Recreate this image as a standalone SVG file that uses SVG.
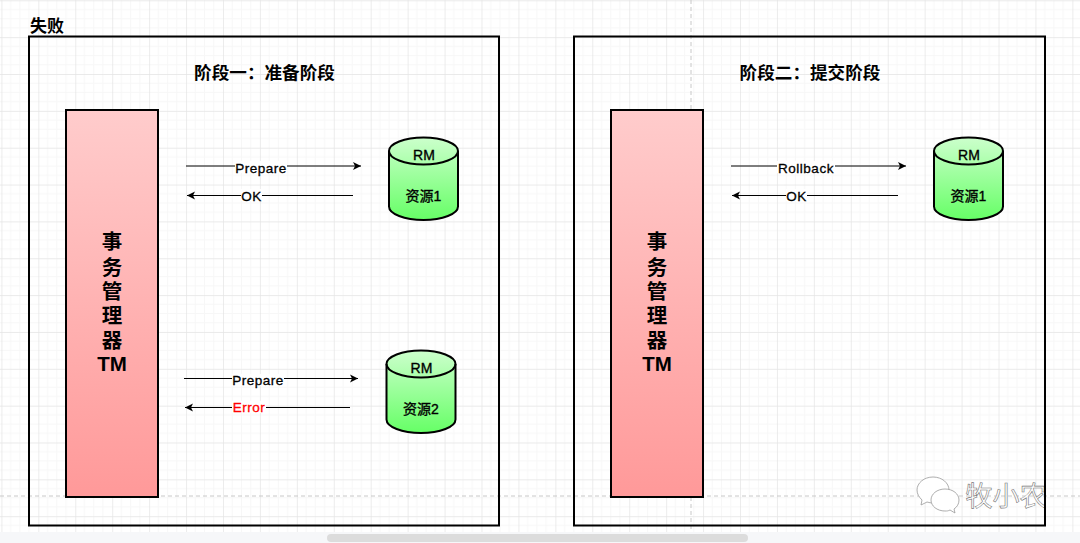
<svg xmlns="http://www.w3.org/2000/svg" width="1080" height="543" viewBox="0 0 1080 543">
<style>
text{font-family:"Liberation Sans","Noto Sans CJK SC",sans-serif;fill:#000;text-anchor:middle}
.frame{fill:none;stroke:#000;stroke-width:2}
.tm{fill:url(#red);stroke:#000;stroke-width:2}
.cyl{fill:url(#green);stroke:#000;stroke-width:2}
.cap{fill:none;stroke:#000;stroke-width:2}
.t{font-size:17.600px;font-weight:bold}
.t0{font-size:17px;font-weight:bold}
.tmt{font-size:20.500px;font-weight:bold}
.r{font-size:14px;stroke:#000;stroke-width:.35}
.l{font-size:13.500px;letter-spacing:.5px;stroke:#000;stroke-width:.3}
.lb{fill:#fff;stroke:none}
.c{stroke:#000;stroke-width:1;fill:none;marker-end:url(#a)}
.d{stroke:#c8c8c8;stroke-width:1;stroke-dasharray:4 3;fill:none}
.wm{fill:#fff;stroke:#999;stroke-width:.8}
</style>
<defs>
<pattern id="g" width="36.93" height="36.85" patternUnits="userSpaceOnUse" x="1.4" y="0.3">
<path d="M9.23 0V36.85M18.46 0V36.85M27.7 0V36.85M0 9.2H36.93M0 18.4H36.93M0 27.6H36.93" stroke="#f7f7f7" stroke-width="1" fill="none"/>
<path d="M0 0V36.85M0 0H36.93" stroke="#e4e4e4" stroke-width="1.400" fill="none"/>
</pattern>
<linearGradient id="red" x1="0" y1="0" x2="0" y2="1"><stop offset="0" stop-color="#ffcccc"/><stop offset="1" stop-color="#ff9999"/></linearGradient>
<linearGradient id="green" x1="0" y1="0" x2="0" y2="1"><stop offset="0" stop-color="#ccffcc"/><stop offset="1" stop-color="#66ff66"/></linearGradient>
<marker id="a" markerUnits="userSpaceOnUse" markerWidth="9" markerHeight="9" refX="8" refY="4.500" orient="auto"><path d="M0 0.500L8 4.500L0 8.500L2 4.500Z" fill="#000"/></marker>
<clipPath id="wc"><rect x="960" y="470" width="84" height="50"/></clipPath>
</defs>
<rect width="1080" height="543" fill="#fff"/>
<rect width="1080" height="532" fill="url(#g)"/>
<rect y="532" width="1080" height="11" fill="#f6f7f9"/>
<rect x="327" y="534" width="421" height="8" rx="4" fill="#dcdcdc"/>
<path class="d" d="M0 496H1080M691 0V532"/>

<g id="frame1"><rect class="frame" x="29" y="36.500" width="470" height="489"/><text class="t0" x="47" y="32">失败</text><text class="t" x="264.500" y="79">阶段一：准备阶段</text></g>
<g id="frame2"><rect class="frame" x="574" y="36.500" width="471" height="489"/><text class="t" x="810" y="79">阶段二：提交阶段</text></g>

<g id="tm1"><rect class="tm" x="66" y="110" width="92" height="387"/>
<text class="tmt" x="112" y="249">事</text><text class="tmt" x="112" y="275">务</text><text class="tmt" x="112" y="299">管</text><text class="tmt" x="112" y="323">理</text><text class="tmt" x="112" y="348">器</text><text class="tmt" x="112" y="371">TM</text></g>
<g id="tm2"><rect class="tm" x="611" y="110" width="92" height="387"/>
<text class="tmt" x="657" y="249">事</text><text class="tmt" x="657" y="275">务</text><text class="tmt" x="657" y="299">管</text><text class="tmt" x="657" y="323">理</text><text class="tmt" x="657" y="348">器</text><text class="tmt" x="657" y="371">TM</text></g>

<g id="rm1"><path class="cyl" d="M389 151A34.500 13.500 0 0 1 458 151V206.500A34.500 13.500 0 0 1 389 206.500Z"/><path class="cap" d="M389 151A34.500 13.500 0 0 0 458 151"/><text class="r" x="424" y="160">RM</text><text class="r" x="423.500" y="201">资源1</text></g>
<g id="rm2"><path class="cyl" d="M386.500 364A34.500 13.500 0 0 1 455.500 364V419.500A34.500 13.500 0 0 1 386.500 419.500Z"/><path class="cap" d="M386.500 364A34.500 13.500 0 0 0 455.500 364"/><text class="r" x="421.500" y="373">RM</text><text class="r" x="421" y="414">资源2</text></g>
<g id="rm3"><path class="cyl" d="M934 151A34.500 13.500 0 0 1 1003 151V206.500A34.500 13.500 0 0 1 934 206.500Z"/><path class="cap" d="M934 151A34.500 13.500 0 0 0 1003 151"/><text class="r" x="969" y="160">RM</text><text class="r" x="968.500" y="201">资源1</text></g>

<g id="connectors">
<path class="c" d="M186 166H361"/><path class="c" d="M353 195.500H187"/>
<path class="c" d="M184 378.500H358"/><path class="c" d="M350 407.500H185"/>
<path class="c" d="M731 166H906"/><path class="c" d="M898 195.500H732"/>
<rect class="lb" x="235" y="161" width="52" height="12"/><text class="l" x="261" y="172.500">Prepare</text>
<rect class="lb" x="241" y="189" width="21" height="12"/><text class="l" x="251.500" y="200.500">OK</text>
<rect class="lb" x="232" y="374" width="52" height="12"/><text class="l" x="258" y="385">Prepare</text>
<rect class="lb" x="232" y="401" width="34" height="12"/><text class="l" x="249" y="412" style="fill:#f00;stroke:#f00">Error</text>
<rect class="lb" x="777" y="161" width="58" height="12"/><text class="l" x="806" y="172.500">Rollback</text>
<rect class="lb" x="786" y="189" width="21" height="12"/><text class="l" x="796.500" y="200.500">OK</text>
</g>

<g id="watermark">
<path class="wm" d="M933 477c-9 0-16 6-16 13c0 4 2 7 5 10l-1 5l6-3c2 .6 4 1 6 1c9 0 16-6 16-13s-7-13-16-13Z"/>
<path class="wm" d="M945 489c-8 0-14 5-14 11s6 11 14 11c2 0 3 0 5-1l5 3l-1-4c3-2 5-5 5-9c0-6-6-11-14-11Z"/>
<g clip-path="url(#wc)"><text x="1006" y="505.500" style="font-size:27px;fill:#fff;stroke:#777;stroke-width:.6">牧小农</text></g>
</g>
</svg>
